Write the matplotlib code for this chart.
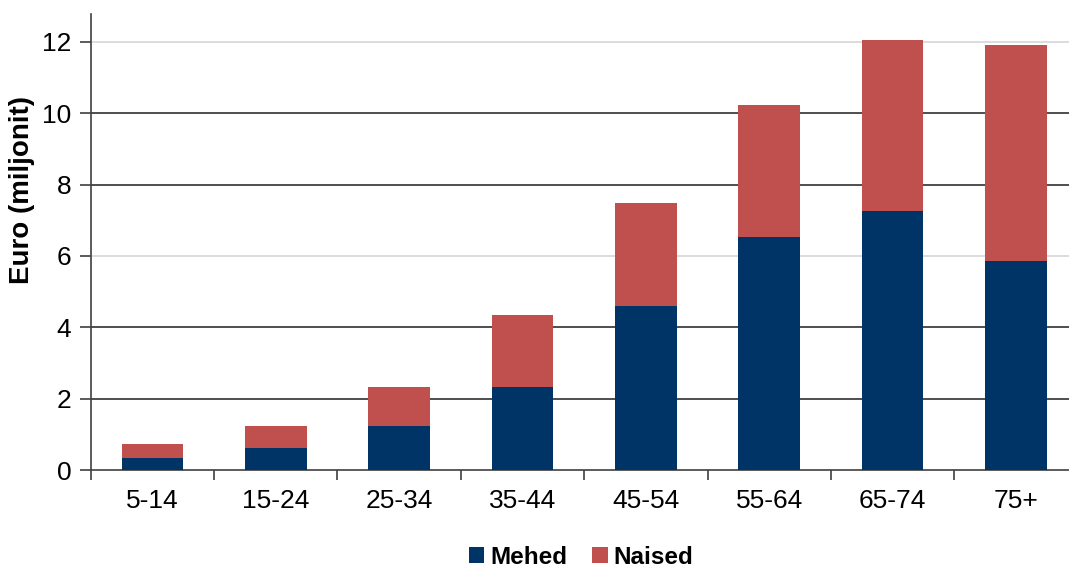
import matplotlib
matplotlib.use("Agg")
import matplotlib.pyplot as plt
import numpy as np

# data
age_groups = ["5-14", "15-24", "25-34", "35-44", "45-54", "55-64", "65-74", "75+"]
mehed = [0.35, 0.61, 1.24, 2.33, 4.59, 6.52, 7.25, 5.86]
naised = [0.37, 0.63, 1.10, 2.02, 2.90, 3.71, 4.79, 6.06]
y_ticks = [0, 2, 4, 6, 8, 10, 12]

plt.rcParams["font.family"] = ["Liberation Sans", "DejaVu Sans"]

fig = plt.figure(figsize=(10.69, 5.67), dpi=100)
ax = fig.add_axes([90.7 / 1069, 1 - 470 / 567, 987 / 1069, 456 / 567])

x = np.arange(len(age_groups))
ax.bar(x, mehed, width=0.5, color="#003366", label="Mehed", zorder=3)
ax.bar(x, naised, width=0.5, bottom=mehed, color="#c0504d", label="Naised", zorder=3)

ax.set_xlim(-0.5, len(age_groups) - 0.5)
ax.set_ylim(0, 12.78)

# gridlines: 6 and 12 light, the rest dark (as in the reference)
for v in y_ticks[1:]:
    col = "#d9d9d9" if v in (6, 12) else "#404040"
    ax.axhline(v, color=col, lw=1.3, zorder=1)

ax.set_yticks(y_ticks)
ax.set_xticks(np.arange(len(age_groups) + 1) - 0.5, minor=True)
ax.set_xticks(x)
ax.set_xticklabels(age_groups)
ax.tick_params(axis="x", which="major", length=0, pad=14, labelsize=19)
ax.tick_params(axis="x", which="minor", length=7, width=1.2, color="#404040")
ax.tick_params(axis="y", length=8, width=1.2, color="#404040", labelsize=19, pad=6)

for s in ["top", "right"]:
    ax.spines[s].set_visible(False)
ax.spines["left"].set_color("#404040")
ax.spines["left"].set_linewidth(1.2)
ax.spines["bottom"].set_color("#404040")
ax.spines["bottom"].set_linewidth(1.2)

ax.set_ylabel("Euro (miljonit)", fontsize=20, fontweight="bold")
ax.yaxis.set_label_coords((35 - 90.7) / 987, (470 - 190) / 456)

leg = fig.legend(loc="center", bbox_to_anchor=(581 / 1069, 1 - 557 / 567), ncol=2,
                 frameon=False, prop={"size": 17.5, "weight": "bold"},
                 handlelength=0.65, handleheight=0.65, handletextpad=0.25,
                 columnspacing=1.0, borderpad=0)

fig.savefig("out.png", dpi=100)
